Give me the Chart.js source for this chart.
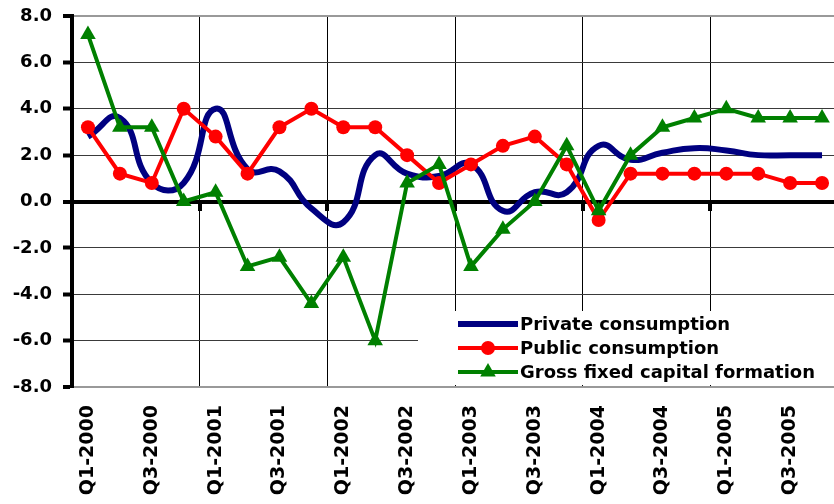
<!DOCTYPE html>
<html><head><meta charset="utf-8">
<script src="https://cdn.jsdelivr.net/npm/chart.js@4"></script>
<style>
html,body{margin:0;padding:0;background:#fff;overflow:hidden;}
#wrap{width:834px;height:504px;overflow:hidden;position:relative;background:#fff;}
canvas{display:block;}
</style></head><body>
<div id="wrap"><canvas id="c" width="847" height="504"></canvas></div>
<script>
const categories = [
  'Q1-2000','Q2-2000','Q3-2000','Q4-2000',
  'Q1-2001','Q2-2001','Q3-2001','Q4-2001',
  'Q1-2002','Q2-2002','Q3-2002','Q4-2002',
  'Q1-2003','Q2-2003','Q3-2003','Q4-2003',
  'Q1-2004','Q2-2004','Q3-2004','Q4-2004',
  'Q1-2005','Q2-2005','Q3-2005','Q4-2005'
];
const privateConsumption = [2.8, 3.6, 0.8, 0.8, 4.0, 1.4, 1.3, -0.3, -0.9, 2.0, 1.2, 1.1, 1.6, -0.4, 0.4, 0.4, 2.4, 1.8, 2.1, 2.3, 2.2, 2.0, 2.0, 2.0];
const publicConsumption = [3.2, 1.2, 0.8, 4.0, 2.8, 1.2, 3.2, 4.0, 3.2, 3.2, 2.0, 0.8, 1.6, 2.4, 2.8, 1.6, -0.8, 1.2, 1.2, 1.2, 1.2, 1.2, 0.8, 0.8];
const grossFixedCapitalFormation = [7.2, 3.2, 3.2, 0.0, 0.4, -2.8, -2.4, -4.4, -2.4, -6.0, 0.8, 1.6, -2.8, -1.2, 0.0, 2.4, -0.4, 2.0, 3.2, 3.6, 4.0, 3.6, 3.6, 3.6];
const seriesNames = ['Private consumption', 'Public consumption', 'Gross fixed capital formation'];
const yMin = -8, yMax = 8, yStep = 2;

const FONT = "'DejaVu Sans', 'Liberation Sans', sans-serif";
const NAVY = '#000080', RED = '#FF0000', GREEN = '#008000';

const zeroTicks = {
  id: 'zeroTicks',
  beforeDatasetsDraw(chart) {
    const xs = chart.scales.x, ys = chart.scales.y, ctx = chart.ctx;
    const y0 = ys.getPixelForValue(0);
    ctx.save();
    ctx.fillStyle = '#000';
    for (let i = 4; i < categories.length; i += 4) {
      const px = Math.round(xs.getPixelForValue(i - 0.5));
      ctx.fillRect(px - 2, Math.round(y0), 4, 9);
    }
    ctx.restore();
  }
};

const boxLegend = {
  id: 'boxLegend',
  afterDraw(chart) {
    const ctx = chart.ctx;
    const area = chart.chartArea;
    const left = 418, top = 311;
    ctx.save();
    ctx.fillStyle = '#fff';
    ctx.fillRect(left, top, chart.width - left, area.bottom - 2 - top);
    const rows = [324, 348, 372];
    const colors = [NAVY, RED, GREEN];
    const widths = [6, 4, 4];
    const x1 = 458, x2 = 518, xm = 488;
    for (let i = 0; i < 3; i++) {
      const y = rows[i];
      ctx.strokeStyle = colors[i];
      ctx.lineWidth = widths[i];
      ctx.beginPath(); ctx.moveTo(x1, y); ctx.lineTo(x2, y); ctx.stroke();
      ctx.fillStyle = colors[i];
      if (i === 1) {
        ctx.beginPath(); ctx.arc(xm, y, 7, 0, Math.PI * 2); ctx.fill();
      } else if (i === 2) {
        const r = 9;
        ctx.beginPath();
        ctx.moveTo(xm, y - r);
        ctx.lineTo(xm + r * 0.866, y + r * 0.5);
        ctx.lineTo(xm - r * 0.866, y + r * 0.5);
        ctx.closePath(); ctx.fill();
      }
      ctx.fillStyle = '#000';
      ctx.font = 'bold 18px ' + FONT;
      ctx.textBaseline = 'middle';
      ctx.textAlign = 'left';
      ctx.fillText(seriesNames[i], 520, y + 1);
    }
    ctx.restore();
  }
};

new Chart(document.getElementById('c'), {
  type: 'line',
  data: {
    labels: categories,
    datasets: [
      { label: seriesNames[0], data: privateConsumption, borderColor: NAVY, backgroundColor: NAVY,
        borderWidth: 6, pointRadius: 0, tension: 0.5, fill: false, order: 2 },
      { label: seriesNames[1], data: publicConsumption, borderColor: RED, backgroundColor: RED,
        borderWidth: 4, pointStyle: 'circle', pointRadius: 7, pointBorderWidth: 0, tension: 0, fill: false, order: 1 },
      { label: seriesNames[2], data: grossFixedCapitalFormation, borderColor: GREEN, backgroundColor: GREEN,
        borderWidth: 4, pointStyle: 'triangle', pointRadius: 9, pointBorderWidth: 0, tension: 0, fill: false, order: 0 }
    ]
  },
  options: {
    responsive: false,
    animation: false,
    layout: { padding: { left: 13, top: 16, right: 2, bottom: 0 } },
    plugins: { legend: { display: false }, tooltip: { enabled: false } },
    scales: {
      x: {
        type: 'category',
        offset: true,
        afterFit: s => { s.height = 117; s.paddingLeft = 0; s.paddingRight = 0; },
        grid: {
          offset: true,
          drawTicks: false,
          color: c => (c.index > 0 && c.index % 4 === 0) ? '#000' : 'rgba(0,0,0,0)',
          lineWidth: 1
        },
        border: { display: true, color: '#999', width: 2 },
        ticks: {
          autoSkip: false, maxRotation: 90, minRotation: 90, padding: 18, color: '#000',
          font: { family: FONT, size: 19, weight: 'bold' },
          callback: (v, i) => (i % 2 === 0 ? categories[i] : '')
        }
      },
      y: {
        min: yMin, max: yMax,
        afterFit: s => { s.width = 59; s.paddingTop = 0; s.paddingBottom = 0; },
        ticks: {
          stepSize: yStep, padding: 11, color: '#000',
          font: { family: FONT, size: 18, weight: 'bold' },
          callback: v => Number(v).toFixed(1)
        },
        grid: {
          color: c => {
            const v = c.tick ? c.tick.value : null;
            if (v === 0) return '#000';
            if (v === yMin || v === yMax) return '#999';
            return '#3a3a3a';
          },
          lineWidth: c => {
            const v = c.tick ? c.tick.value : null;
            if (v === 0) return 4;
            if (v === yMin || v === yMax) return 2;
            return 1;
          },
          tickColor: '#000', tickWidth: 4, tickLength: 9
        },
        border: { color: '#000', width: 4 }
      }
    }
  },
  plugins: [zeroTicks, boxLegend]
});
</script>
</body></html>
